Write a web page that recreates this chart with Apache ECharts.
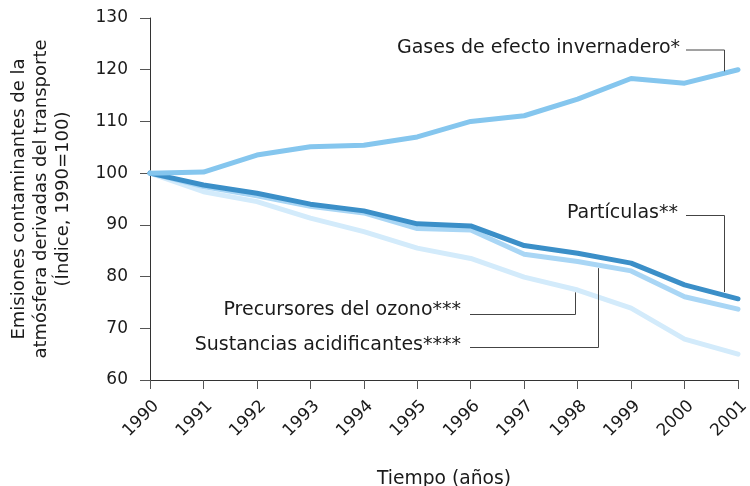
<!DOCTYPE html>
<html>
<head>
<meta charset="utf-8">
<script src="https://cdn.jsdelivr.net/npm/echarts@6/dist/echarts.min.js"></script>
<style>html,body{margin:0;padding:0;background:#fff}#c{width:750px;height:486px}</style>
</head>
<body>
<div id="c"></div>
<script>
const years = ['1990','1991','1992','1993','1994','1995','1996','1997','1998','1999','2000','2001'];
const yTicks = [60,70,80,90,100,110,120,130];
const gases = [100,100.2,103.5,105.1,105.4,107,110,111.1,114.3,118.3,117.4,120];
const particulas = [100,97.7,96.1,94,92.7,90.2,89.8,86,84.5,82.6,78.4,75.7];
const precursores = [100,97.4,95.6,93.6,92.3,89.3,89,84.3,82.9,81.1,76.1,73.7];
const acidificantes = [100,96.4,94.5,91.3,88.7,85.5,83.5,79.9,77.4,73.9,67.9,65];

const FONT = 'DejaVu Sans';
const chart = echarts.init(document.getElementById('c'), null, {renderer: 'canvas'});

function line(name, data, color, z) {
  return {
    name, type: 'line', data, symbol: 'none', z,
    lineStyle: {color, width: 5, cap: 'round', join: 'round'},
    itemStyle: {color}, silent: true, animation: false
  };
}

chart.setOption({
  animation: false,
  grid: {left: 150, right: 12, top: 18, bottom: 106, containLabel: false, outerBoundsMode: 'none'},
  xAxis: {
    type: 'category', data: years, boundaryGap: false,
    name: 'Tiempo (años)', nameLocation: 'middle', nameGap: 90,
    nameTextStyle: {fontFamily: FONT, fontSize: 18.7, color: '#1a1a1a'},
    axisLine: {lineStyle: {color: '#333', width: 1}},
    axisTick: {show: true, length: 9, alignWithLabel: true, lineStyle: {color: '#555'}},
    axisLabel: {rotate: 45, margin: 17, verticalAlign: 'top', lineHeight: 18,
      fontFamily: FONT, fontSize: 17, color: '#1a1a1a', interval: 0},
    splitLine: {show: false}
  },
  yAxis: {
    type: 'value', min: yTicks[0], max: yTicks[yTicks.length - 1], interval: 10,
    name: 'Emisiones contaminantes de la\natmósfera derivadas del transporte\n(Índice, 1990=100)',
    nameLocation: 'middle', nameGap: 76, nameRotate: 90,
    nameTextStyle: {fontFamily: FONT, fontSize: 18, color: '#1a1a1a', lineHeight: 22, align: 'center'},
    axisLine: {show: true, lineStyle: {color: '#333', width: 1}},
    axisTick: {show: true, length: 10, lineStyle: {color: '#555'}},
    axisLabel: {margin: 22, fontFamily: FONT, fontSize: 17, color: '#1a1a1a'},
    splitLine: {show: false}
  },
  series: [
    line('Sustancias acidificantes', acidificantes, '#d3ebfb', 1),
    line('Precursores del ozono', precursores, '#a9d6f5', 2),
    line('Partículas', particulas, '#3b8fc8', 3),
    line('Gases de efecto invernadero', gases, '#85c6ee', 4)
  ]
});

// Annotations: leader lines attach to a series at a fractional category position
function px(idx, val) { return chart.convertToPixel({gridIndex: 0}, [idx, val]); }
function attach(data, pos) {
  const i = Math.floor(pos), f = pos - i;
  const j = Math.min(i + 1, data.length - 1);
  const v = data[i] + (data[j] - data[i]) * f;
  const a = px(i, v), b = px(j, v);
  return [a[0] + (b[0] - a[0]) * f, a[1]];
}
const notes = [
  {text: 'Gases de efecto invernadero*', data: gases, pos: 10.73, tx: 680, ty: 48, hy: 50, hx0: 686, off: -2},
  {text: 'Partículas**', data: particulas, pos: 10.73, tx: 678, ty: 213, hy: 215.5, hx0: 686, off: -3},
  {text: 'Precursores del ozono***', data: acidificantes, pos: 7.95, tx: 461, ty: 310, hy: 314.5, hx0: 470, off: 3},
  {text: 'Sustancias acidificantes****', data: precursores, pos: 8.38, tx: 461, ty: 345, hy: 347.5, hx0: 470, off: 3}
];
const graphics = [];
notes.forEach(n => {
  const p = attach(n.data, n.pos);
  const x = Math.round(p[0]) + 0.5;
  graphics.push({
    type: 'polyline', silent: true, z: 10,
    shape: {points: [[n.hx0, n.hy], [x, n.hy], [x, p[1] + n.off]]},
    style: {stroke: '#444', lineWidth: 1, fill: null}
  });
  graphics.push({
    type: 'text', silent: true, z: 10, x: n.tx, y: n.ty,
    style: {text: n.text, fontFamily: FONT, fontSize: 19, fill: '#1a1a1a', align: 'right', verticalAlign: 'middle'}
  });
});
chart.setOption({graphic: graphics});
</script>
</body>
</html>
